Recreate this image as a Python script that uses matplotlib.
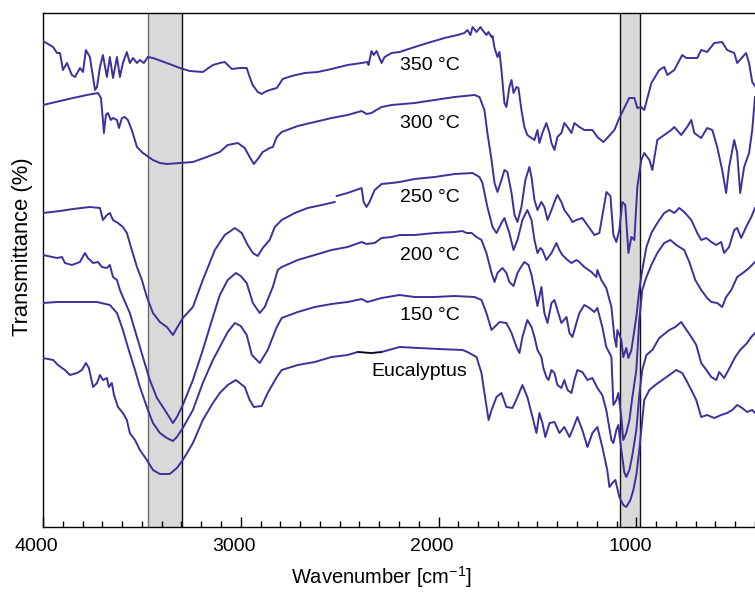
import matplotlib
matplotlib.use("Agg")
import matplotlib.pyplot as plt
import matplotlib.transforms as mtrans
import numpy as np
from matplotlib.ticker import MultipleLocator

plt.rcParams['font.family'] = ['Liberation Sans', 'DejaVu Sans']
plt.rcParams['mathtext.default'] = 'regular'

# (wavenumber cm-1, transmittance a.u. with offsets as drawn)
spec_350 = [(4000,486),(3949,480),(3929,474),(3914,474),(3899,457),(3879,464),(3854,452),(3838,450),(3813,459),(3798,455),
            (3783,477),(3763,470),(3747,450),(3737,437),(3727,440),(3712,460),(3697,472),(3677,450),(3662,470),(3646,449),
            (3626,470),(3611,450),(3596,464),(3576,475),(3561,464),(3545,469),(3525,464),(3510,467),(3490,464),(3470,470),
            (3444,469),(3374,464),(3308,459),(3258,456),(3192,455),(3141,462),(3106,464),(3081,465),(3045,458),(3005,459),
            (2970,459),(2955,450),(2940,442),(2914,435),(2894,433),(2879,435),(2854,437),(2818,439),(2788,448),(2743,451),
            (2677,454),(2611,455),(2541,458),(2460,462),(2389,464),(2359,465),(2354,462),(2339,476),(2328,472),(2313,476),
            (2303,471),(2288,464),(2273,470),(2237,474),(2197,475),(2136,479),(2056,484),(1970,489),(1904,492),(1869,494),
            (1854,497),(1839,492),(1828,500),(1808,495),(1788,500),(1778,497),(1758,492),(1748,495),(1732,490),(1727,491),
            (1717,479),(1702,470),(1692,475),(1682,457),(1667,424),(1657,420),(1642,440),(1631,447),(1621,434),(1606,440),
            (1596,439),(1581,417),(1566,400),(1551,392),(1530,389),(1515,387),(1500,397),(1490,384),(1475,394),(1455,404),
            (1439,394),(1429,384),(1414,377),(1399,390),(1379,394),(1364,404),(1348,400),(1328,394),(1313,404),(1288,400),
            (1263,397),(1222,397),(1197,390),(1167,385),(1147,389),(1111,397),(1086,409),(1036,429),(1010,429),(995,419),
            (975,420),(960,417),(924,444),(884,457),(859,460),(843,452),(808,457),(768,472),(748,469),(692,469),
            (672,477),(642,475),(606,484),(566,485),(541,477),(505,474),(490,464),(445,474),(430,464),(414,445),(400,441)]

spec_300 = [(4000,422),(3914,426),(3848,429),(3778,432),(3722,434),(3707,429),(3697,407),(3692,394),(3682,412),(3672,414),
            (3657,407),(3646,409),(3626,407),(3616,399),(3601,409),(3586,410),(3571,407),(3551,397),(3525,380),(3495,374),
            (3444,367),(3409,364),(3374,363),(3308,364),(3242,365),(3172,370),(3106,375),(3066,382),(3015,384),(2980,379),
            (2955,370),(2934,363),(2914,368),(2889,375),(2854,379),(2838,380),(2818,390),(2793,395),(2712,401),(2626,405),
            (2541,409),(2460,412),(2389,416),(2364,413),(2339,414),(2323,416),(2288,420),(2237,422),(2121,424),(2020,427),
            (1919,430),(1818,432),(1793,430),(1768,417),(1753,394),(1732,367),(1717,344),(1702,335),(1682,347),(1667,357),
            (1652,355),(1631,334),(1616,312),(1601,305),(1581,320),(1561,347),(1541,360),(1530,350),(1515,327),(1500,317),
            (1480,325),(1465,320),(1449,307),(1429,317),(1414,325),(1399,332),(1379,325),(1364,317),(1338,310),(1323,305),
            (1303,307),(1273,309),(1237,299),(1212,292),(1187,294),(1151,335),(1131,331),(1116,292),(1101,285),(1086,297),
            (1071,325),(1056,322),(1040,274),(1025,290),(1010,287),(995,340),(975,367),(960,374),(934,367),(919,357),
            (894,387),(859,392),(823,397),(808,400),(773,392),(743,400),(722,407),(707,394),(672,389),(642,399),
            (616,397),(591,380),(566,357),(546,334),(531,360),(505,387),(490,374),(475,334),(455,360),(430,374),
            (414,397),(400,430)]

spec_250 = [(4000,314),(3914,316),(3848,318),(3763,320),(3712,319),(3697,307),(3677,312),(3662,314),(3646,307),(3621,304),
            (3596,300),(3576,294),(3551,277),(3525,260),(3500,247),(3475,230),(3444,214),(3409,205),(3374,200),(3343,192),
            (3323,199),(3293,209),(3242,220),(3192,247),(3131,277),(3081,292),(3030,299),(2995,294),(2965,282),(2939,274),
            (2914,271),(2889,279),(2854,287),(2828,300),(2793,307),(2727,314),(2662,319),(2591,322),(2525,325),(2520,np.nan),
            (2515,331),(2460,334),(2389,339),(2379,325),(2364,320),(2349,325),(2323,337),(2288,343),(2237,344),(2197,345),
            (2121,348),(2020,350),(1919,353),(1828,354),(1793,350),(1778,344),(1753,320),(1727,300),(1707,294),(1682,304),
            (1667,309),(1642,294),(1621,277),(1601,287),(1576,307),(1551,317),(1530,307),(1515,287),(1500,274),(1485,279),
            (1475,277),(1455,267),(1429,274),(1404,284),(1389,277),(1374,272),(1348,267),(1328,264),(1303,267),(1288,265),
            (1263,260),(1227,255),(1202,250),(1197,257),(1177,247),(1152,239),(1126,220),(1111,190),(1101,180),(1096,197),
            (1076,187),(1066,170),(1051,179),(1040,169),(1025,177),(1000,210),(985,237),(970,257),(949,280),(924,294),
            (894,304),(859,314),(833,317),(808,314),(783,319),(758,315),(722,307),(692,294),(672,287),(646,289),
            (621,285),(596,282),(571,285),(556,274),(531,280),(505,297),(490,299),(470,289),(445,300),(419,310),(400,319)]

spec_200 = [(4000,272),(3929,269),(3904,270),(3889,264),(3854,262),(3813,265),(3788,274),(3773,269),(3747,264),(3722,265),
            (3702,260),(3677,259),(3662,262),(3646,250),(3626,247),(3611,237),(3596,230),(3561,214),(3525,190),(3495,170),
            (3460,147),(3424,129),(3384,117),(3343,104),(3323,110),(3293,122),(3242,147),(3192,177),(3141,210),(3106,232),
            (3066,247),(3025,254),(3000,251),(2970,244),(2939,224),(2904,214),(2879,220),(2838,240),(2813,257),(2793,260),
            (2712,267),(2626,272),(2541,277),(2460,280),(2389,285),(2364,283),(2323,284),(2288,289),(2237,290),(2197,292),
            (2121,292),(2020,294),(1919,295),(1879,296),(1859,294),(1833,294),(1808,290),(1783,287),(1758,274),(1732,254),
            (1717,245),(1702,254),(1677,259),(1657,254),(1642,245),(1621,241),(1601,254),(1586,259),(1566,265),(1545,262),
            (1530,252),(1515,237),(1500,221),(1480,240),(1465,214),(1449,204),(1429,224),(1414,227),(1399,217),(1379,204),
            (1353,210),(1338,194),(1323,190),(1303,204),(1288,214),(1263,222),(1237,219),(1212,215),(1197,219),(1172,200),
            (1152,180),(1136,174),(1126,170),(1116,122),(1101,127),(1091,134),(1076,110),(1066,87),(1051,94),(1035,107),
            (1020,130),(1000,157),(985,207),(970,237),(949,250),(924,262),(894,274),(859,284),(828,287),(798,282),
            (758,277),(732,265),(702,247),(672,237),(642,229),(621,225),(591,224),(566,220),(546,230),(520,237),
            (490,250),(455,255),(430,259),(400,265)]

spec_150 = [(4000,224),(3929,225),(3727,225),(3662,222),(3626,214),(3596,197),(3571,180),(3535,157),(3510,140),(3475,120),
            (3444,104),(3409,94),(3374,89),(3343,86),(3323,90),(3293,99),(3242,117),(3192,144),(3141,167),(3106,180),
            (3066,195),(3030,204),(3000,201),(2970,192),(2944,172),(2904,164),(2864,177),(2818,200),(2793,209),(2712,215),
            (2626,220),(2541,223),(2460,225),(2389,228),(2359,225),(2288,229),(2197,232),(2121,230),(2020,230),(1919,231),
            (1818,230),(1783,227),(1758,214),(1732,197),(1717,200),(1692,205),(1657,204),(1631,194),(1606,180),(1591,174),
            (1576,190),(1551,207),(1530,200),(1515,190),(1500,177),(1480,170),(1470,159),(1455,150),(1444,147),(1429,157),
            (1414,154),(1399,142),(1379,139),(1364,147),(1348,137),(1328,134),(1313,147),(1298,157),(1273,155),(1247,147),
            (1222,149),(1197,139),(1172,132),(1152,117),(1126,87),(1116,84),(1101,97),(1091,102),(1076,77),(1061,55),
            (1051,50),(1035,57),(1020,72),(1000,97),(985,132),(970,157),(949,172),(919,177),(884,189),(833,197),
            (803,200),(773,205),(753,199),(722,190),(697,182),(672,164),(646,157),(621,150),(596,147),(581,155),
            (556,149),(526,160),(500,170),(475,177),(440,184),(419,190),(400,194)]

spec_euc = [(4000,169),(3949,167),(3924,162),(3904,159),(3889,157),(3864,152),(3828,154),(3803,157),(3783,164),(3768,159),
            (3747,140),(3727,144),(3712,152),(3697,147),(3677,149),(3667,140),(3652,144),(3641,132),(3621,120),(3596,114),
            (3576,107),(3561,94),(3535,87),(3510,77),(3475,67),(3444,57),(3409,53),(3359,53),(3323,59),(3293,67),
            (3242,84),(3192,107),(3141,124),(3106,134),(3066,142),(3025,147),(2980,140),(2955,127),(2934,120),(2894,121),
            (2864,134),(2818,150),(2793,157),(2712,162),(2626,165),(2541,170),(2460,172),(2409,175),(2339,174),(2288,175),
            (2197,180),(2100,179),(2000,178),(1879,177),(1854,175),(1808,170),(1783,154),(1768,134),(1747,107),(1732,117),
            (1707,130),(1682,134),(1657,120),(1626,119),(1601,130),(1576,142),(1551,130),(1525,110),(1505,94),(1490,114),
            (1475,104),(1460,90),(1439,104),(1414,105),(1389,94),(1364,100),(1338,90),(1323,97),(1298,110),(1273,97),
            (1247,80),(1222,94),(1197,100),(1172,80),(1147,57),(1136,40),(1121,44),(1106,47),(1086,30),(1066,22),
            (1051,20),(1030,27),(1015,37),(1000,52),(985,77),(960,127),(934,137),(904,142),(869,147),(833,152),
            (798,157),(768,154),(748,147),(722,137),(697,127),(672,110),(642,112),(606,109),(571,112),(541,114),
            (515,117),(490,122),(465,119),(440,115),(414,117),(400,114)]

series = [spec_350, spec_300, spec_250, spec_200, spec_150, spec_euc]
labels = ["350 \u00b0C", "300 \u00b0C", "250 \u00b0C", "200 \u00b0C", "150 \u00b0C", "Eucalyptus"]
label_x = [2197, 2197, 2197, 2197, 2197, 2340]
label_y = [457, 399, 325, 267, 207, 151]

bands = [(3470, 3295), (1085, 980)]
euc_leader = (2424, 2232)

line_color = '#3f2f9c'

fig = plt.figure(figsize=(7.55, 5.92), dpi=100)
ax = fig.add_axes([43/755, 65/592, 712/755, 514/592])

for (hi, lo), ec in zip(bands, ['#6b6b6b', '#111111']):
    ax.axvspan(lo, hi, facecolor='#d9d9d9', edgecolor='none', zorder=1)
    ax.axvline(hi, color=ec, lw=1.0, zorder=1.5)
    ax.axvline(lo, color='#111111', lw=1.0, zorder=1.5)

for spec in series:
    w, t = zip(*spec)
    ax.plot(w, t, color=line_color, lw=1.4, zorder=3)

# leader segment of the Eucalyptus label (drawn black over the trace)
w, t = map(np.array, zip(*spec_euc))
m = (w <= euc_leader[0]) & (w >= euc_leader[1])
ax.plot(w[m], t[m], color='black', lw=0.9, zorder=4)

for lab, x, y in zip(labels, label_x, label_y):
    ax.text(x, y, lab, fontsize=14, ha='left', va='baseline', color='black', zorder=5)

ax.set_xlim(4000, 400)
ax.set_ylim(0, 514)
ax.xaxis.set_major_locator(MultipleLocator(1000))
ax.xaxis.set_minor_locator(MultipleLocator(100))
ax.tick_params(axis='x', which='major', direction='in', length=7.5, width=1, labelsize=14, pad=8)
ax.tick_params(axis='x', which='minor', direction='in', length=4.3, width=1)
ax.set_yticks([])
ax.spines['right'].set_visible(False)
for s in ['left', 'bottom', 'top']:
    ax.spines[s].set_linewidth(1.0)

shift = mtrans.ScaledTranslation(-6.5/100, 0, fig.dpi_scale_trans)
for lbl in ax.get_xticklabels():
    lbl.set_transform(lbl.get_transform() + shift)

ax.set_xlabel("Wavenumber [cm$^{-1}$]", fontsize=14.5, va='top')
ax.xaxis.set_label_coords((381-43)/712, (527-564)/514)
ax.set_ylabel("Transmittance (%)", fontsize=15.8)
ax.yaxis.set_label_coords((33-43)/712, (527-247)/514)

fig.savefig("out.png", dpi=100)
